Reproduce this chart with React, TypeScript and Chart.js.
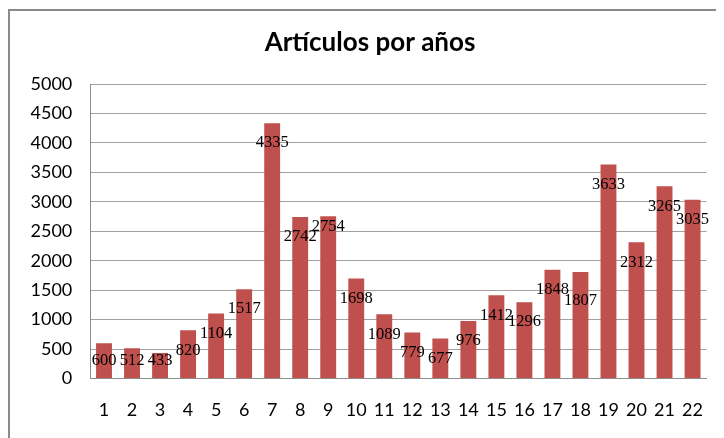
import React, { useEffect, useRef } from "react";
import { Chart, registerables } from "chart.js";

Chart.register(...registerables);

const categories = ["1","2","3","4","5","6","7","8","9","10","11","12","13","14","15","16","17","18","19","20","21","22"];
const articles = [600, 512, 433, 820, 1104, 1517, 4335, 2742, 2754, 1698, 1089, 779, 677, 976, 1412, 1296, 1848, 1807, 3633, 2312, 3265, 3035];
const yMax = 5000;
const yStep = 500;
const titleText = "Artículos por años";

const labelNudge: Record<number, number> = { 8: -10, 17: 9 };

const barLabels = {
  id: "barLabels",
  afterDatasetsDraw(chart: any) {
    const ctx = chart.ctx;
    const meta = chart.getDatasetMeta(0);
    const area = chart.chartArea;
    ctx.save();
    ctx.font = "16.5px 'Liberation Serif'";
    ctx.fillStyle = "#000";
    ctx.textAlign = "center";
    ctx.textBaseline = "middle";
    meta.data.forEach((bar: any, i: number) => {
      let y = Math.min(bar.y + 20, area.bottom - 17.5);
      y += labelNudge[i] || 0;
      ctx.fillText(String(articles[i]), bar.x, y);
    });
    ctx.restore();
  },
};

export default function App() {
  const ref = useRef<HTMLCanvasElement>(null);
  useEffect(() => {
    if (!ref.current) return;
    const chart = new Chart(ref.current, {
      type: "bar",
      data: {
        labels: categories,
        datasets: [
          {
            data: articles,
            backgroundColor: "#C0504D",
            borderWidth: 0,
            categoryPercentage: 1,
            barPercentage: 0.567,
          },
        ],
      },
      options: {
        animation: false,
        responsive: false,
        maintainAspectRatio: false,
        layout: { padding: { left: 21.3, right: 13.3, top: 0, bottom: 0 } },
        plugins: {
          legend: { display: false },
          tooltip: { enabled: false },
          title: {
            display: true,
            text: titleText,
            color: "#000",
            font: { family: "Lato", size: 26, weight: "bold", lineHeight: 1.2 },
            padding: { top: 19.4, bottom: 25.4 },
          },
        },
        scales: {
          x: {
            grid: { display: false, drawTicks: false },
            border: { display: true, color: "#8c8c8c", width: 1 },
            ticks: {
              color: "#000",
              font: { family: "Lato", size: 18 },
              padding: 20.7,
              maxRotation: 0,
              autoSkip: false,
            },
            afterFit(scale: any) {
              scale.height = 59.5;
            },
          },
          y: {
            min: 0,
            max: yMax,
            grid: { color: "#a0a0a0", lineWidth: 1, drawTicks: false },
            border: { display: true, color: "#8c8c8c", width: 1 },
            ticks: {
              stepSize: yStep,
              color: "#000",
              font: { family: "Lato", size: 18 },
              padding: 17.7,
              callback: (v: any) => String(v),
            },
            afterFit(scale: any) {
              scale.width = 60.7;
            },
          },
        },
      },
      plugins: [barLabels],
    });
    return () => chart.destroy();
  }, []);

  return (
    <div style={{ position: "relative", width: 716, height: 430, overflow: "hidden" }}>
      <div
        style={{
          position: "absolute",
          left: 0,
          top: 1,
          width: 780,
          height: 480,
          border: "2px solid #8a8a8a",
          boxSizing: "border-box",
        }}
      />
      <canvas
        ref={ref}
        width={716}
        height={430}
        style={{ position: "absolute", left: 0, top: 0, width: 716, height: 430 }}
      />
    </div>
  );
}
